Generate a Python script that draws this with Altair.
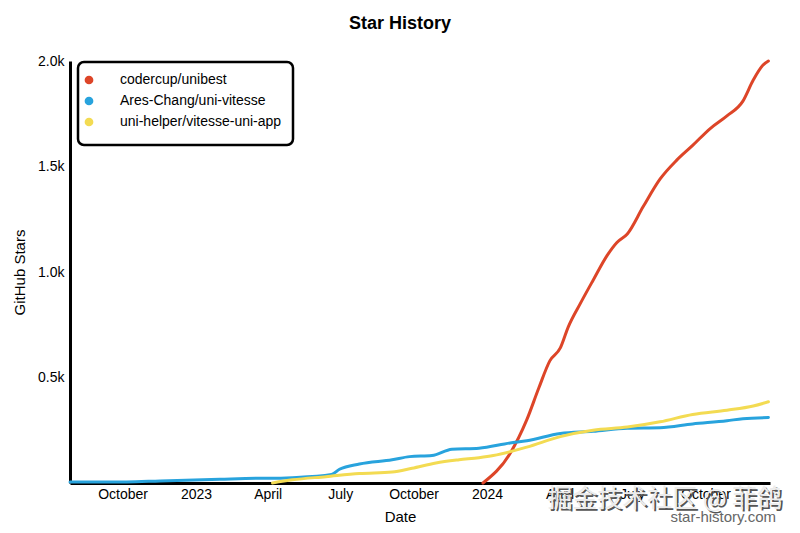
import altair as alt
import pandas as pd

repos = ["codercup/unibest", "Ares-Chang/uni-vitesse", "uni-helper/vitesse-uni-app"]
colors = ["#dd4528", "#28a3dd", "#f3db52"]

unibest_dates = ["2023-12-27", "2024-01-30", "2024-02-20", "2024-03-06", "2024-03-20", "2024-04-02",
                 "2024-04-12", "2024-04-27", "2024-05-13", "2024-05-31", "2024-06-12", "2024-06-25",
                 "2024-07-15", "2024-08-05", "2024-08-26", "2024-09-15", "2024-10-07", "2024-10-28",
                 "2024-11-17", "2024-11-30", "2024-12-12", "2024-12-19"]
unibest_stars = [0, 140, 300, 450, 580, 640, 740, 850, 960, 1080, 1140, 1180,
                 1310, 1440, 1530, 1600, 1680, 1740, 1810, 1910, 1980, 2000]

vitesse_dates = ["2022-07-27", "2022-10-06", "2022-11-17", "2023-01-31", "2023-03-18", "2023-04-07",
                 "2023-05-02", "2023-06-20", "2023-06-30", "2023-07-25", "2023-09-04", "2023-09-26",
                 "2023-10-24", "2023-11-18", "2023-12-22", "2024-01-30", "2024-02-20", "2024-04-02",
                 "2024-05-13", "2024-06-25", "2024-08-05", "2024-09-15", "2024-10-28", "2024-11-17",
                 "2024-12-19"]
vitesse_stars = [5, 5, 10, 18, 22, 22, 25, 40, 65, 90, 110, 125,
                 130, 160, 165, 190, 200, 235, 245, 260, 262, 280, 295, 305, 310]

app_dates = ["2023-04-07", "2023-05-02", "2023-06-13", "2023-07-25", "2023-09-04", "2023-09-29",
             "2023-10-29", "2023-11-27", "2023-12-22", "2024-01-09", "2024-02-20", "2024-04-02",
             "2024-05-13", "2024-06-25", "2024-08-05", "2024-09-15", "2024-10-28", "2024-11-30",
             "2024-12-19"]
app_stars = [0, 15, 30, 45, 52, 70, 95, 110, 120, 130, 170, 220,
             250, 265, 290, 325, 345, 365, 385]

tick_dates = ["2022-10-01", "2023-01-01", "2023-04-01", "2023-07-01", "2023-10-01",
              "2024-01-01", "2024-04-01", "2024-07-01", "2024-10-01"]
y_ticks = [500, 1000, 1500, 2000]

rows = []
for repo, ds, vs in [(repos[0], unibest_dates, unibest_stars),
                     (repos[1], vitesse_dates, vitesse_stars),
                     (repos[2], app_dates, app_stars)]:
    for d, v in zip(ds, vs):
        rows.append({"repo": repo, "date": d, "stars": v})
df = pd.DataFrame(rows)


def dt(s):
    y, m, d = map(int, s.split("-"))
    return alt.DateTime(year=y, month=m, date=d, utc=True)


FONT = "Liberation Sans"

x = alt.X("date:T",
          scale=alt.Scale(type="utc", domain=[dt("2022-07-27"), dt("2024-12-21")]),
          axis=alt.Axis(title="Date", values=[dt(s) for s in tick_dates],
                        labelExpr="utcFormat(datum.value, '%m') == '01' ? utcFormat(datum.value, '%Y') : utcFormat(datum.value, '%B')",
                        ticks=False, grid=False, domainColor="black", domainWidth=3,
                        labelFontSize=14, labelPadding=4, labelColor="black",
                        titleFontSize=15, titleFontWeight="normal", titleColor="black",
                        titleX=330, titleY=26, titleBaseline="top",
                        labelFont=FONT, titleFont=FONT))
y = alt.Y("stars:Q",
          scale=alt.Scale(domain=[0, 2000], nice=False),
          axis=alt.Axis(title="GitHub Stars", values=y_ticks,
                        labelExpr="format(datum.value / 1000, '.1f') + 'k'",
                        ticks=False, grid=False, domainColor="black", domainWidth=3,
                        labelFontSize=14, labelPadding=6, labelColor="black",
                        titleFontSize=15, titleFontWeight="normal", titleColor="black",
                        titlePadding=10, labelFont=FONT, titleFont=FONT))

lines = alt.Chart(df).mark_line(strokeWidth=3, interpolate="monotone", strokeCap="round").encode(
    x=x, y=y,
    color=alt.Color("repo:N", scale=alt.Scale(domain=repos, range=colors),
                    legend=alt.Legend(title=None, orient="none", legendX=8, legendY=1,
                                      symbolType="circle", symbolSize=18, symbolOpacity=1,
                                      symbolStrokeWidth=4.5, labelLimit=400,
                                      symbolOffset=-7,
                                      labelFontSize=14, labelFont=FONT, labelColor="black",
                                      labelOffset=24, fillColor="white")),
    order=alt.value(0),
)

wm = pd.DataFrame({"t": ["掘金技术社区 @ 菲鸽"]})
shadow = alt.Chart(wm).mark_text(font="Noto Sans CJK SC", fontSize=25, align="right",
                                 baseline="middle", color="#555555").encode(
    text="t:N", x=alt.value(714), y=alt.value(440))
front = alt.Chart(wm).mark_text(font="Noto Sans CJK SC", fontSize=25, align="right",
                                baseline="middle", color="#ececec").encode(
    text="t:N", x=alt.value(712), y=alt.value(438))
site = pd.DataFrame({"t": ["star-history.com"]})
site_t = alt.Chart(site).mark_text(font=FONT, fontSize=15, align="right",
                                   baseline="middle", color="#666666").encode(
    text="t:N", x=alt.value(706), y=alt.value(456))

chart = alt.layer(lines, shadow, front, site_t).properties(
    width=700, height=422,
    title=alt.TitleParams("Star History", fontSize=18, font=FONT, fontWeight="bold",
                          anchor="middle", dx=-20, offset=21, color="black"),
    autosize=alt.AutoSizeParams(type="none"),
    padding={"left": 62, "top": 53, "right": 22, "bottom": 42},
).configure_view(stroke=None).configure_legend(
    strokeColor="black", strokeWidth=2.5, cornerRadius=6, padding=11, rowPadding=-3,
)

chart.save("out.html", embed_options={"renderer": "svg", "actions": False})
